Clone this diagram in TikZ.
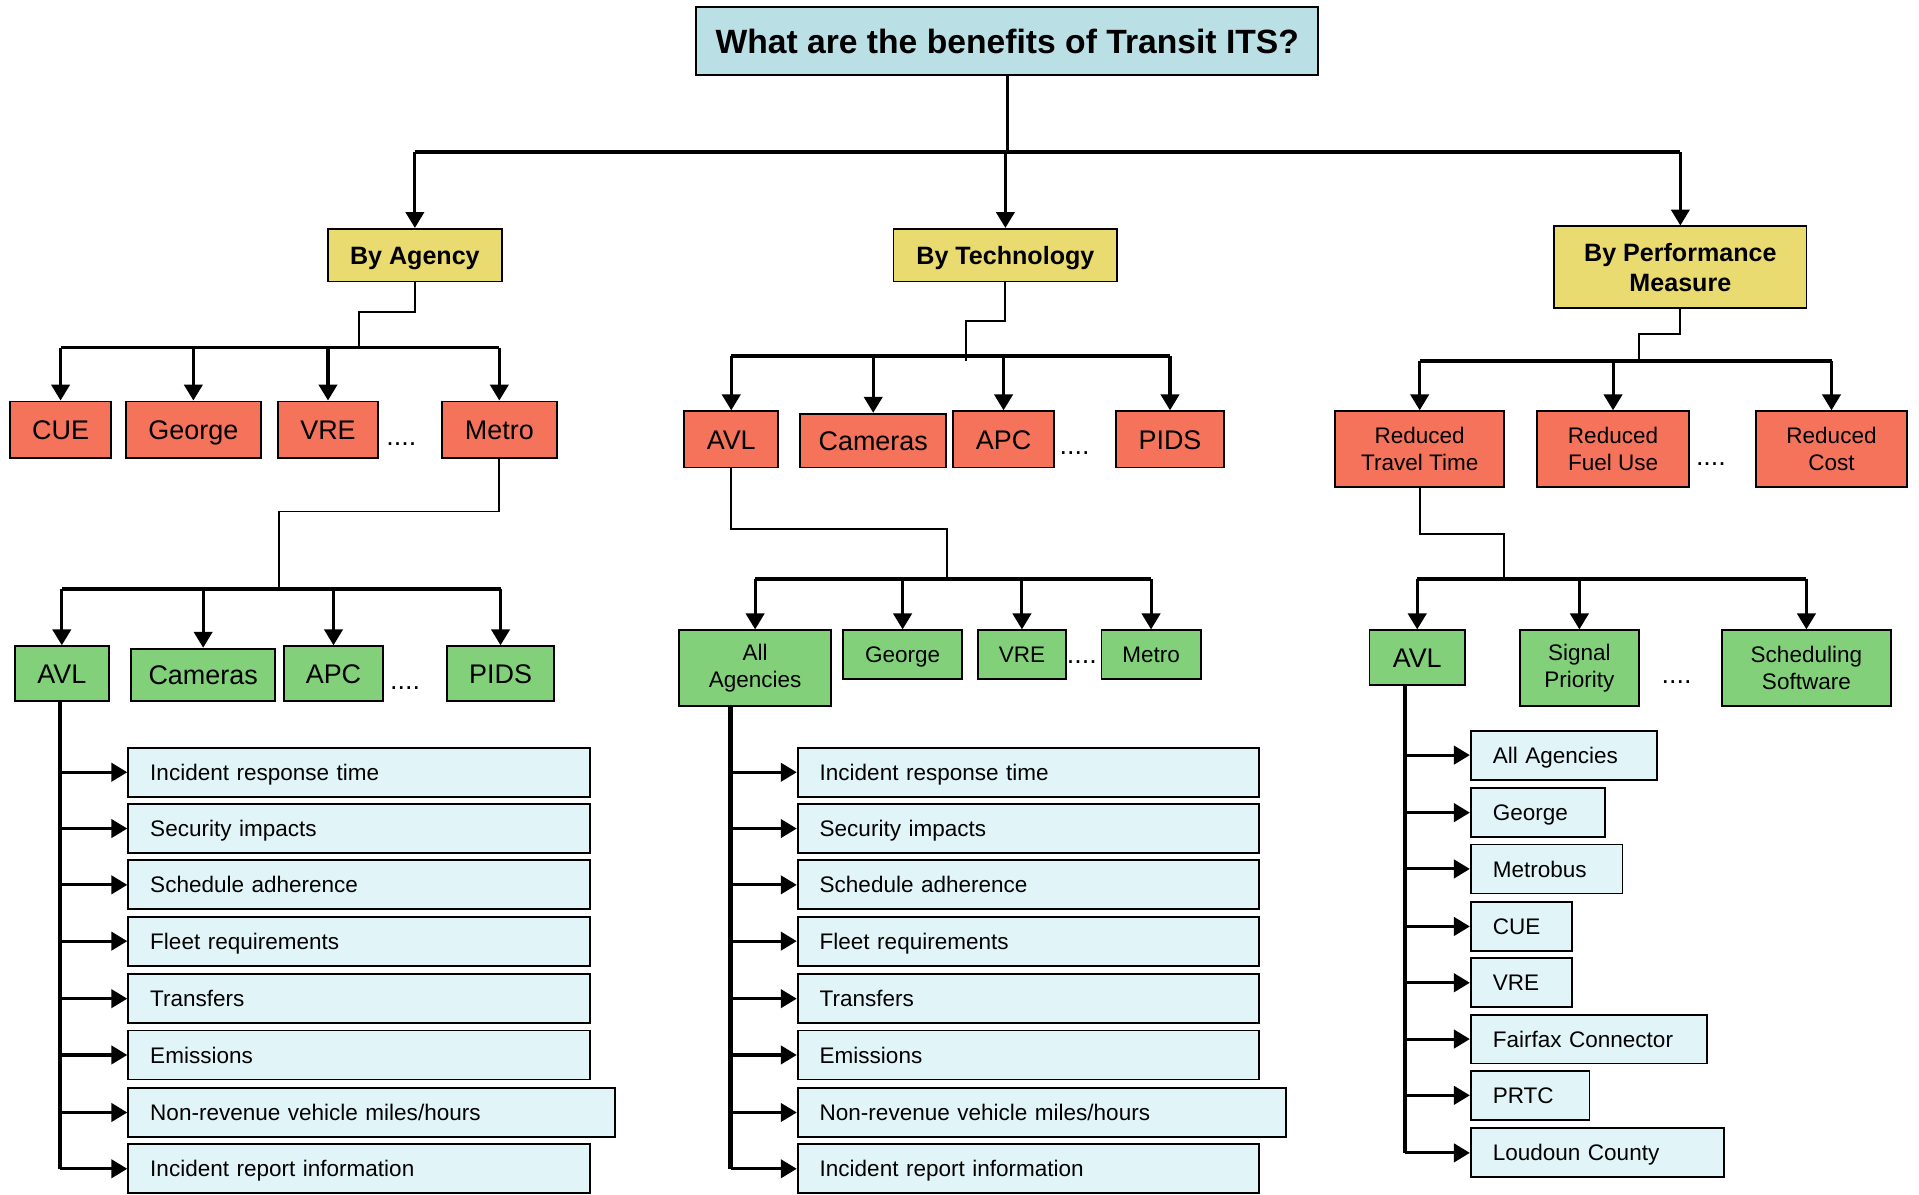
\documentclass[tikz,border=0pt]{standalone}
\usepackage{fontspec}
\setmainfont{Liberation Sans}
\usetikzlibrary{arrows.meta,calc}
\definecolor{titlec}{RGB}{186,224,229}
\definecolor{yel}{RGB}{234,219,112}
\definecolor{redc}{RGB}{244,115,90}
\definecolor{grn}{RGB}{130,209,122}
\definecolor{lblue}{RGB}{225,245,248}
\begin{document}
\begin{tikzpicture}[x=1pt,y=-1pt,
  box/.style={draw=black, line width=1.5pt, inner sep=0pt, align=center},
  titlebox/.style={box, fill=titlec, font=\fontsize{27.5}{32}\selectfont\bfseries, text height=19.8pt, text depth=0pt},
  catbox/.style={box, fill=yel, font=\fontsize{20.5}{24}\selectfont\bfseries},
  catone/.style={catbox, text height=14.7pt, text depth=0pt},
  redbox/.style={box, fill=redc, font=\fontsize{22}{26}\selectfont, text height=15.8pt, text depth=0pt},
  redsmall/.style={box, fill=redc, font=\fontsize{18.4}{22}\selectfont},
  grnbox/.style={box, fill=grn, font=\fontsize{22}{26}\selectfont, text height=15.8pt, text depth=0pt},
  grnone/.style={box, fill=grn, font=\fontsize{18.4}{22}\selectfont, text height=13.2pt, text depth=0pt},
  grnsmall/.style={box, fill=grn, font=\fontsize{18.4}{22}\selectfont},
  leaf/.style={draw=black, line width=1.5pt, fill=lblue, anchor=west, inner xsep=18pt, inner ysep=0pt,
     minimum height=40pt, align=left, font=\fontsize{18.4}{22}\selectfont, text height=13.2pt, text depth=0pt},
  dots/.style={inner sep=0pt, font=\fontsize{22}{26}\selectfont},
  stub/.style={draw=black, line width=1.5pt},
  barline/.style={draw=black, line width=3pt},
  arr/.style={draw=black, line width=2.5pt, -{Triangle[width=15pt,length=13pt]}},
  trunk/.style={draw=black, line width=4pt},
]
\useasboundingbox (0,0) rectangle (1568,976);

% ---- top levels
\node[titlebox, minimum width=508pt, minimum height=55pt] (title) at (823,33.5) {What are the benefits of Transit ITS?};
\node[catone, minimum width=142pt, minimum height=43pt] (ag) at (339,208.5) {By Agency};
\node[catone, minimum width=183pt, minimum height=43pt] (te) at (821.5,208.5) {By Technology};
\node[catbox, minimum width=206pt, minimum height=67pt] (pm) at (1373,218.5) {By Performance\\Measure};

\coordinate (topbar) at (0,124);
\draw[stub, line width=2.4pt] (title.south) -- (title.south |- topbar);
\draw[barline] (ag.north |- topbar) -- (pm.north |- topbar);
\draw[arr] (ag.north |- topbar) -- (ag.north);
\draw[arr] (te.north |- topbar) -- (te.north);
\draw[arr] (pm.north |- topbar) -- (pm.north);

% ---- agency branch
\node[redbox, minimum width=83pt, minimum height=46pt] (rcue) at (49.5,351) {CUE};
\node[redbox, minimum width=110pt, minimum height=46pt] (rgeo) at (158,351) {George};
\node[redbox, minimum width=82pt, minimum height=46pt] (rvre) at (268,351) {VRE};
\node[redbox, minimum width=94pt, minimum height=46pt] (rmet) at (408,351) {Metro};
\node[dots] (d1) at (328,363) {....};

\coordinate (agj) at (293,255);
\coordinate (agbar) at (0,284);
\draw[stub] (ag.south) |- (agj) -- (agj |- agbar);
\draw[barline] (rcue.north |- agbar) -- (rmet.north |- agbar);
\foreach \n in {rcue,rgeo,rvre,rmet} \draw[arr] (\n.north |- agbar) -- (\n.north);

\node[grnbox, minimum width=77pt, minimum height=45pt] (gavl) at (50.5,550.5) {AVL};
\node[grnbox, minimum width=118pt, minimum height=43pt] (gcam) at (166,551.5) {Cameras};
\node[grnbox, minimum width=81pt, minimum height=45pt] (gapc) at (272.5,550.5) {APC};
\node[grnbox, minimum width=88pt, minimum height=45pt] (gpid) at (409,550.5) {PIDS};
\node[dots] (d2) at (331,562) {....};

\coordinate (mj) at (228,418);
\coordinate (gbar) at (0,481);
\draw[stub] (rmet.south) |- (mj) -- (mj |- gbar);
\draw[barline] (gavl.north |- gbar) -- (gpid.north |- gbar);
\foreach \n in {gavl,gcam,gapc,gpid} \draw[arr] (\n.north |- gbar) -- (\n.north);

\node[leaf, text width=341pt] (a1) at (104,631) {Incident response time};
\node[leaf, text width=341pt] (a2) at (104,677) {Security impacts};
\node[leaf, text width=341pt] (a3) at (104,723) {Schedule adherence};
\node[leaf, text width=341pt] (a4) at (104,769) {Fleet requirements};
\node[leaf, text width=341pt] (a5) at (104,816) {Transfers};
\node[leaf, text width=341pt] (a6) at (104,862) {Emissions};
\node[leaf, text width=362pt] (a7) at (104,909) {Non-revenue vehicle miles/hours};
\node[leaf, text width=341pt] (a8) at (104,955) {Incident report information};
\coordinate (atr) at (49,573);
\draw[trunk] (atr) -- (atr |- a8.west);
\foreach \n in {a1,a2,a3,a4,a5,a6,a7,a8} \draw[arr] (atr |- \n.west) -- (\n.west);

% ---- technology branch
\node[redbox, minimum width=77pt, minimum height=46pt] (ravl) at (597.5,359) {AVL};
\node[redbox, minimum width=119pt, minimum height=44pt] (rcam) at (713.5,360) {Cameras};
\node[redbox, minimum width=82pt, minimum height=46pt] (rapc) at (820,359) {APC};
\node[redbox, minimum width=88pt, minimum height=46pt] (rpid) at (956,359) {PIDS};
\node[dots] (d3) at (878,370) {....};

\coordinate (tj) at (789,262);
\coordinate (tbar) at (0,291);
\draw[stub] (te.south) |- (tj) -- ($(tj |- tbar)+(0,4)$);
\draw[barline] (ravl.north |- tbar) -- (rpid.north |- tbar);
\foreach \n in {ravl,rcam,rapc,rpid} \draw[arr] (\n.north |- tbar) -- (\n.north);

\node[grnsmall, minimum width=124pt, minimum height=62pt] (gall) at (617,546) {All\\Agencies};
\node[grnone, minimum width=97pt, minimum height=40pt] (ggeo) at (737.5,535) {George};
\node[grnone, minimum width=72pt, minimum height=40pt] (gvre) at (835,535) {VRE};
\node[grnone, minimum width=81pt, minimum height=40pt] (gmet) at (940.5,535) {Metro};
\node[dots] (d4) at (884,541) {....};

\coordinate (tj2) at (774,432);
\coordinate (tgbar) at (0,473);
\draw[stub] (ravl.south) |- (tj2) -- (tj2 |- tgbar);
\draw[barline] (gall.north |- tgbar) -- (gmet.north |- tgbar);
\foreach \n in {gall,ggeo,gvre,gmet} \draw[arr] (\n.north |- tgbar) -- (\n.north);

\node[leaf, text width=341pt] (b1) at (651,631) {Incident response time};
\node[leaf, text width=341pt] (b2) at (651,677) {Security impacts};
\node[leaf, text width=341pt] (b3) at (651,723) {Schedule adherence};
\node[leaf, text width=341pt] (b4) at (651,769) {Fleet requirements};
\node[leaf, text width=341pt] (b5) at (651,816) {Transfers};
\node[leaf, text width=341pt] (b6) at (651,862) {Emissions};
\node[leaf, text width=363pt] (b7) at (651,909) {Non-revenue vehicle miles/hours};
\node[leaf, text width=341pt] (b8) at (651,955) {Incident report information};
\coordinate (btr) at (597,577);
\draw[trunk] (btr) -- (btr |- b8.west);
\foreach \n in {b1,b2,b3,b4,b5,b6,b7,b8} \draw[arr] (btr |- \n.west) -- (\n.west);

% ---- performance branch
\node[redsmall, minimum width=138pt, minimum height=62pt] (rtt) at (1160,367) {Reduced\\Travel Time};
\node[redsmall, minimum width=124pt, minimum height=62pt] (rfu) at (1318,367) {Reduced\\Fuel Use};
\node[redsmall, minimum width=123pt, minimum height=62pt] (rco) at (1496.5,367) {Reduced\\Cost};
\node[dots] (d5) at (1398,379) {....};

\coordinate (pj) at (1339,273);
\coordinate (pbar) at (0,295);
\draw[stub] (pm.south) |- (pj) -- (pj |- pbar);
\draw[barline] (rtt.north |- pbar) -- (rco.north |- pbar);
\foreach \n in {rtt,rfu,rco} \draw[arr] (\n.north |- pbar) -- (\n.north);

\node[grnbox, minimum width=78pt, minimum height=45pt] (pavl) at (1158,537.5) {AVL};
\node[grnsmall, minimum width=97pt, minimum height=62pt] (psig) at (1290.5,546) {Signal\\Priority};
\node[grnsmall, minimum width=138pt, minimum height=62pt] (psch) at (1476,546) {Scheduling\\Software};
\node[dots] (d6) at (1370,557) {....};

\coordinate (pj2) at (1229,436);
\coordinate (pgbar) at (0,473);
\draw[stub] (rtt.south) |- (pj2) -- (pj2 |- pgbar);
\draw[barline] (pavl.north |- pgbar) -- (psch.north |- pgbar);
\foreach \n in {pavl,psig,psch} \draw[arr] (\n.north |- pgbar) -- (\n.north);

\node[leaf, text width=116pt] (c1) at (1201,617) {All Agencies};
\node[leaf, text width=74pt] (c2) at (1201,664) {George};
\node[leaf, text width=88pt] (c3) at (1201,710) {Metrobus};
\node[leaf, text width=47pt] (c4) at (1201,757) {CUE};
\node[leaf, text width=47pt] (c5) at (1201,803) {VRE};
\node[leaf, text width=157pt] (c6) at (1201,849) {Fairfax Connector};
\node[leaf, text width=61pt] (c7) at (1201,895) {PRTC};
\node[leaf, text width=171pt] (c8) at (1201,942) {Loudoun County};
\coordinate (ctr) at (1148,560);
\draw[trunk] (ctr) -- (ctr |- c8.west);
\foreach \n in {c1,c2,c3,c4,c5,c6,c7,c8} \draw[arr] (ctr |- \n.west) -- (\n.west);
\end{tikzpicture}
\end{document}
